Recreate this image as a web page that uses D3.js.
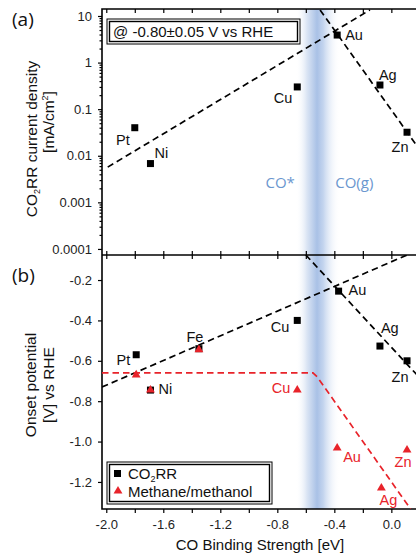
<!DOCTYPE html>
<html>
<head>
<meta charset="utf-8">
<script src="https://cdn.jsdelivr.net/npm/d3@7"></script>
<style>
    body { margin: 0; background: #fff; }
    text { font-family: "Liberation Sans", Arial, sans-serif; }
</style>
</head>
<body>
<div id="chart"></div>
<script>
// panel (a): CO2RR current density
const metalsA = ['Pt', 'Ni', 'Cu', 'Au', 'Ag', 'Zn'];
const bindingA = [-1.80, -1.69, -0.66, -0.38, -0.08, 0.11];
const currentA = [0.04, 0.0068, 0.30, 3.9, 0.33, 0.032];

// panel (b): onset potentials
const metalsB = ['Pt', 'Fe', 'Ni', 'Cu', 'Au', 'Ag', 'Zn'];
const bindingB = [-1.79, -1.35, -1.69, -0.66, -0.37, -0.08, 0.11];
const onsetCO2RR = [-0.57, -0.54, -0.745, -0.40, -0.255, -0.527, -0.60];
const bindingCH4 = [-1.79, -1.35, -1.69, -0.66, -0.38, -0.07, 0.11];
const onsetCH4 = [-0.665, -0.54, -0.74, -0.74, -1.027, -1.225, -1.037];
const labelsCH4 = ['', '', '', 'Cu', 'Au', 'Ag', 'Zn'];

// dashed trend lines
const trendA1 = [[-1.99, 0.0057], [-0.15, 13.5]];
const trendA2 = [[-0.50, 13.5], [0.175, 0.017]];
const trendB1 = [[-2.03, -0.73], [0.11, -0.076]];
const trendB2 = [[-0.60, -0.076], [0.18, -0.67]];
const trendRed = [[-2.03, -0.66], [-0.55, -0.66], [-0.52, -0.68], [0.135, -1.334]];

// axis ticks
const xTicks = [-2.0, -1.8, -1.6, -1.4, -1.2, -1.0, -0.8, -0.6, -0.4, -0.2, 0.0];
const xTickLabels = ['-2.0', '', '-1.6', '', '-1.2', '', '-0.8', '', '-0.4', '', '0.0'];
const yTicksA = [0.0001, 0.001, 0.01, 0.1, 1, 10];
const yTickLabelsA = ['0.0001', '0.001', '0.01', '0.1', '1', '10'];
const yTicksB = [-0.2, -0.4, -0.6, -0.8, -1.0, -1.2];
const yTickLabelsB = ['-0.2', '-0.4', '-0.6', '-0.8', '-1.0', '-1.2'];

const W = 416, H = 554;
const left = 102, right = 417, topA = 9, mid = 255, bottom = 509;
const red = '#e8232a';
const blueText = '#6b97cf';

const svg = d3.select('#chart').append('svg').attr('width', W).attr('height', H);

const x = d3.scaleLinear().domain([-2.03, 0.18]).range([left, right]);
const yA = d3.scaleLog().domain([Math.pow(10, -4.13), Math.pow(10, 1.15)]).range([mid, topA]);
const yB = d3.scaleLinear().domain([-1.334, -0.076]).range([bottom, mid]);

// CO* / CO(g) band
const defs = svg.append('defs');
const grad = defs.append('linearGradient').attr('id', 'band').attr('x1', '0%').attr('x2', '100%');
[[0, '#ffffff', 0], [0.25, '#dbe5f4', 1], [0.48, '#a9c1e6', 1], [0.62, '#c3d4ee', 1], [1, '#ffffff', 0]]
    .forEach(s => grad.append('stop').attr('offset', s[0]).attr('stop-color', s[1]).attr('stop-opacity', s[2]));
defs.append('clipPath').attr('id', 'clipA').append('rect')
    .attr('x', left).attr('y', topA).attr('width', right - left).attr('height', mid - topA);
defs.append('clipPath').attr('id', 'clipB').append('rect')
    .attr('x', left).attr('y', mid).attr('width', right - left).attr('height', bottom - mid);

svg.append('rect')
    .attr('x', x(-0.67)).attr('y', topA)
    .attr('width', x(-0.36) - x(-0.67)).attr('height', bottom - topA)
    .attr('fill', 'url(#band)');

svg.append('text').attr('x', x(-0.78)).attr('y', 188).attr('text-anchor', 'middle')
    .style('font-family', '"Open Sans", "Noto Sans", sans-serif').style('font-size', '15px')
    .attr('fill', blueText).text('CO*');
svg.append('text').attr('x', x(-0.26)).attr('y', 188).attr('text-anchor', 'middle')
    .style('font-family', '"Open Sans", "Noto Sans", sans-serif').style('font-size', '15px')
    .attr('fill', blueText).text('CO(g)');

// frame
const frame = svg.append('g').attr('stroke', '#000').attr('stroke-width', 1.6).attr('fill', 'none');
frame.append('path').attr('d', `M${right},${topA} H${left} V${bottom} H${right}`);
frame.append('path').attr('d', `M${left},${mid} H${right}`);

// axes
function styleAxis(g) {
    g.select('.domain').remove();
    g.selectAll('line').attr('stroke', '#000').attr('stroke-width', 1.2);
    g.selectAll('text').style('font-size', '13px').attr('fill', '#222');
}

const xFmt = (d, i) => xTickLabels[i];
svg.append('g').attr('transform', `translate(0,${bottom})`)
    .call(d3.axisBottom(x).tickValues(xTicks).tickFormat(xFmt).tickSize(4).tickPadding(7))
    .call(styleAxis);
// inner ticks, no labels
[topA, mid].forEach(yy => {
    svg.append('g').attr('transform', `translate(0,${yy})`)
        .call(d3.axisBottom(x).tickValues(xTicks).tickFormat('').tickSize(4))
        .call(styleAxis);
});
svg.append('g').attr('transform', `translate(0,${mid})`)
    .call(d3.axisTop(x).tickValues(xTicks).tickFormat('').tickSize(4))
    .call(styleAxis);

// log axis with minor ticks
const minorA = [];
for (let e = -4; e <= 1; e++) {
    for (let m = 2; m <= 9; m++) {
        const v = m * Math.pow(10, e);
        if (v < yA.domain()[1]) minorA.push(v);
    }
}
svg.append('g').attr('transform', `translate(${left},0)`)
    .call(d3.axisLeft(yA).tickValues(minorA).tickFormat('').tickSize(2.5))
    .call(styleAxis);
svg.append('g').attr('transform', `translate(${left},0)`)
    .call(d3.axisLeft(yA).tickValues(yTicksA).tickFormat((d, i) => yTickLabelsA[i]).tickSize(4).tickPadding(6))
    .call(styleAxis);

svg.append('g').attr('transform', `translate(${left},0)`)
    .call(d3.axisLeft(yB).tickValues(yTicksB).tickFormat((d, i) => yTickLabelsB[i]).tickSize(4).tickPadding(6))
    .call(styleAxis);

// trend lines
function dashed(g, data, yScale, color) {
    g.append('path')
        .datum(data)
        .attr('d', d3.line().x(d => x(d[0])).y(d => yScale(d[1])))
        .attr('fill', 'none')
        .attr('stroke', color)
        .attr('stroke-width', 1.7)
        .attr('stroke-dasharray', '6.5,4');
}
const gA = svg.append('g').attr('clip-path', 'url(#clipA)');
const gB = svg.append('g').attr('clip-path', 'url(#clipB)');
dashed(gA, trendA1, yA, '#000');
dashed(gA, trendA2, yA, '#000');
dashed(gB, trendB1, yB, '#000');
dashed(gB, trendB2, yB, '#000');
dashed(gB, trendRed, yB, red);

// markers
const sq = 7;
function squares(g, xs, ys, yScale) {
    g.selectAll(null)
        .data(xs)
        .enter()
        .append('rect')
        .attr('x', (d, i) => x(d) - sq / 2)
        .attr('y', (d, i) => yScale(ys[i]) - sq / 2)
        .attr('width', sq).attr('height', sq)
        .attr('fill', '#000');
}
squares(svg, bindingA, currentA, yA);
squares(svg, bindingB, onsetCO2RR, yB);

const tri = d3.symbol().type(d3.symbolTriangle).size(34);
svg.selectAll(null)
    .data(bindingCH4)
    .enter()
    .append('path')
    .attr('d', tri)
    .attr('transform', (d, i) => `translate(${x(d)},${yB(onsetCH4[i]) + 1})`)
    .attr('fill', red);

// point labels: [anchor, dx, dy]
const offsetsA = [['end', -5, 17], ['start', 4, -6], ['end', -5, 16], ['start', 8, 5], ['start', -1, -5], ['middle', -7, 20]];
const offsetsB = [['end', -6, 10], ['middle', -4, -7], ['start', 8, 4], ['end', -8, 12], ['start', 10, 4], ['start', 1, -13], ['middle', -7, 21]];
const offsetsCH4 = [null, null, null, ['end', -7, 4], ['start', 6, 15], ['middle', 7, 18], ['middle', -4, 18]];

function labels(names, xs, ys, yScale, offs, color) {
    names.forEach((n, i) => {
        if (!n || !offs[i]) return;
        svg.append('text')
            .attr('x', x(xs[i]) + offs[i][1])
            .attr('y', yScale(ys[i]) + offs[i][2])
            .attr('text-anchor', offs[i][0])
            .style('font-size', '14.5px')
            .attr('fill', color)
            .text(n);
    });
}
labels(metalsA, bindingA, currentA, yA, offsetsA, '#111');
labels(metalsB, bindingB, onsetCO2RR, yB, offsetsB, '#111');
labels(labelsCH4, bindingCH4, onsetCH4, yB, offsetsCH4, red);

// boxes with double border
function box(x0, y0, x1, y1) {
    svg.append('rect').attr('x', x0).attr('y', y0).attr('width', x1 - x0).attr('height', y1 - y0)
        .attr('fill', '#fff').attr('stroke', '#000').attr('stroke-width', 1);
    svg.append('rect').attr('x', x0 + 2.5).attr('y', y0 + 2.5).attr('width', x1 - x0 - 5).attr('height', y1 - y0 - 5)
        .attr('fill', 'none').attr('stroke', '#000').attr('stroke-width', 1.4);
}
box(107, 19, 300, 44);
svg.append('text').attr('x', 113).attr('y', 37).style('font-size', '15px').attr('fill', '#111')
    .text('@ -0.80±0.05 V vs RHE');

box(107, 462, 272, 504);
svg.append('rect').attr('x', 114).attr('y', 470).attr('width', sq).attr('height', sq).attr('fill', '#000');
svg.append('path').attr('d', tri).attr('transform', 'translate(118,491)').attr('fill', red);
const leg1 = svg.append('text').attr('x', 128).attr('y', 479).style('font-size', '15px').attr('fill', '#111');
leg1.append('tspan').text('CO');
leg1.append('tspan').text('2').style('font-size', '9px').attr('dy', 3);
leg1.append('tspan').text('RR').attr('dy', -3);
svg.append('text').attr('x', 128).attr('y', 497).style('font-size', '15px').attr('fill', '#111')
    .text('Methane/methanol');

// axis titles
const tA1 = svg.append('text').attr('transform', 'translate(37,139) rotate(-90)')
    .attr('text-anchor', 'middle').style('font-size', '15.5px').attr('fill', '#111');
tA1.append('tspan').text('CO');
tA1.append('tspan').text('2').style('font-size', '9px').attr('dy', 3);
tA1.append('tspan').text('RR current density').attr('dy', -3);
const tA2 = svg.append('text').attr('transform', 'translate(54,122) rotate(-90)')
    .attr('text-anchor', 'middle').style('font-size', '15.5px').attr('fill', '#111');
tA2.append('tspan').text('[mA/cm');
tA2.append('tspan').text('2').style('font-size', '9px').attr('dy', -6);
tA2.append('tspan').text(']').attr('dy', 6);

svg.append('text').attr('transform', 'translate(36,385) rotate(-90)')
    .attr('text-anchor', 'middle').style('font-size', '15.5px').attr('fill', '#111').text('Onset potential');
svg.append('text').attr('transform', 'translate(54,385) rotate(-90)')
    .attr('text-anchor', 'middle').style('font-size', '15.5px').attr('fill', '#111').text('[V] vs RHE');

svg.append('text').attr('x', 260).attr('y', 550).attr('text-anchor', 'middle')
    .style('font-size', '15px').attr('fill', '#111').text('CO Binding Strength [eV]');

// panel letters
svg.append('text').attr('x', 12).attr('y', 26)
    .style('font-family', '"Open Sans", "Noto Sans", sans-serif').style('font-size', '19px').attr('fill', '#111').text('(a)');
svg.append('text').attr('x', 12).attr('y', 282)
    .style('font-family', '"Open Sans", "Noto Sans", sans-serif').style('font-size', '19px').attr('fill', '#111').text('(b)');
</script>
</body>
</html>
